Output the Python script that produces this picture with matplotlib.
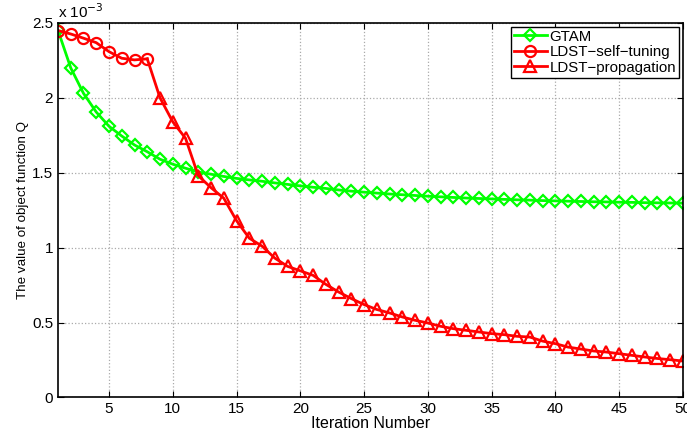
import matplotlib
matplotlib.use("Agg")
import matplotlib.pyplot as plt

plt.rcParams['font.family'] = ['Liberation Sans', 'DejaVu Sans']

# values in units of 1e-3
iters = list(range(1, 51))

gtam = [2.45, 2.20, 2.03, 1.905, 1.81, 1.745, 1.685, 1.64, 1.59, 1.557,
        1.53, 1.505, 1.49, 1.475, 1.462, 1.452, 1.443, 1.432, 1.422, 1.412,
        1.403, 1.395, 1.385, 1.377, 1.370, 1.364, 1.358, 1.353, 1.348, 1.343,
        1.339, 1.335, 1.331, 1.328, 1.325, 1.322, 1.319, 1.317, 1.314, 1.312,
        1.310, 1.308, 1.306, 1.305, 1.303, 1.302, 1.300, 1.299, 1.298, 1.297]

self_iters = list(range(1, 9))
self_tuning = [2.449, 2.426, 2.398, 2.368, 2.308, 2.264, 2.253, 2.26]

prop_iters = list(range(8, 51))
propagation = [2.26, 2.00, 1.84, 1.73, 1.48, 1.40, 1.33, 1.18, 1.063, 1.01,
               0.93, 0.875, 0.845, 0.815, 0.755, 0.704, 0.66, 0.62, 0.587, 0.564,
               0.537, 0.515, 0.497, 0.475, 0.459, 0.448, 0.437, 0.426, 0.419, 0.408,
               0.403, 0.376, 0.359, 0.336, 0.323, 0.31, 0.303, 0.292, 0.281, 0.27,
               0.26, 0.252, 0.243]

fig = plt.figure(figsize=(6.87, 4.32), dpi=100)
ax = fig.add_axes([0.0844, 0.080, 0.9096, 0.867])

ax.plot(iters, gtam, color=(0, 1, 0), lw=2, marker='D', ms=6.5,
        mfc='none', mew=1.6, label='GTAM')
ax.plot(self_iters, self_tuning, color=(1, 0, 0), lw=2, marker='o', ms=8,
        mfc='none', mew=1.6, label='LDST\u2212self\u2212tuning')
ax.plot(prop_iters, propagation, color=(1, 0, 0), lw=2, marker='^', ms=8.5,
        mfc='none', mew=1.6, markevery=list(range(1, len(prop_iters))),
        label='LDST\u2212propagation')

ax.set_xlim(1, 50)
ax.set_ylim(0, 2.5)
ax.set_xticks(range(5, 51, 5))
ax.set_yticks([0, 0.5, 1, 1.5, 2, 2.5])
ax.set_yticklabels(['0', '0.5', '1', '1.5', '2', '2.5'])
ax.tick_params(direction='in', top=True, right=True, labelsize=11, length=4)
ax.grid(True, color='#aaaaaa', linestyle=':', linewidth=0.9)
for s in ax.spines.values():
    s.set_linewidth(1.2)

ax.set_xlabel('Iteration Number', fontsize=11.5, labelpad=0)
ax.set_ylabel('The value of object function Q', fontsize=9.6, labelpad=2)
ax.text(0.0, 1.005, 'x 10$^{-3}$', transform=ax.transAxes, fontsize=11,
        ha='left', va='bottom')

leg = ax.legend(loc='upper right', fontsize=10.8, fancybox=False,
                edgecolor='black', framealpha=1, borderpad=0.2,
                labelspacing=0.1, handlelength=2.2, handletextpad=0.2,
                borderaxespad=0.25)
leg.get_frame().set_linewidth(1.0)

fig.savefig('out.png', dpi=100)
